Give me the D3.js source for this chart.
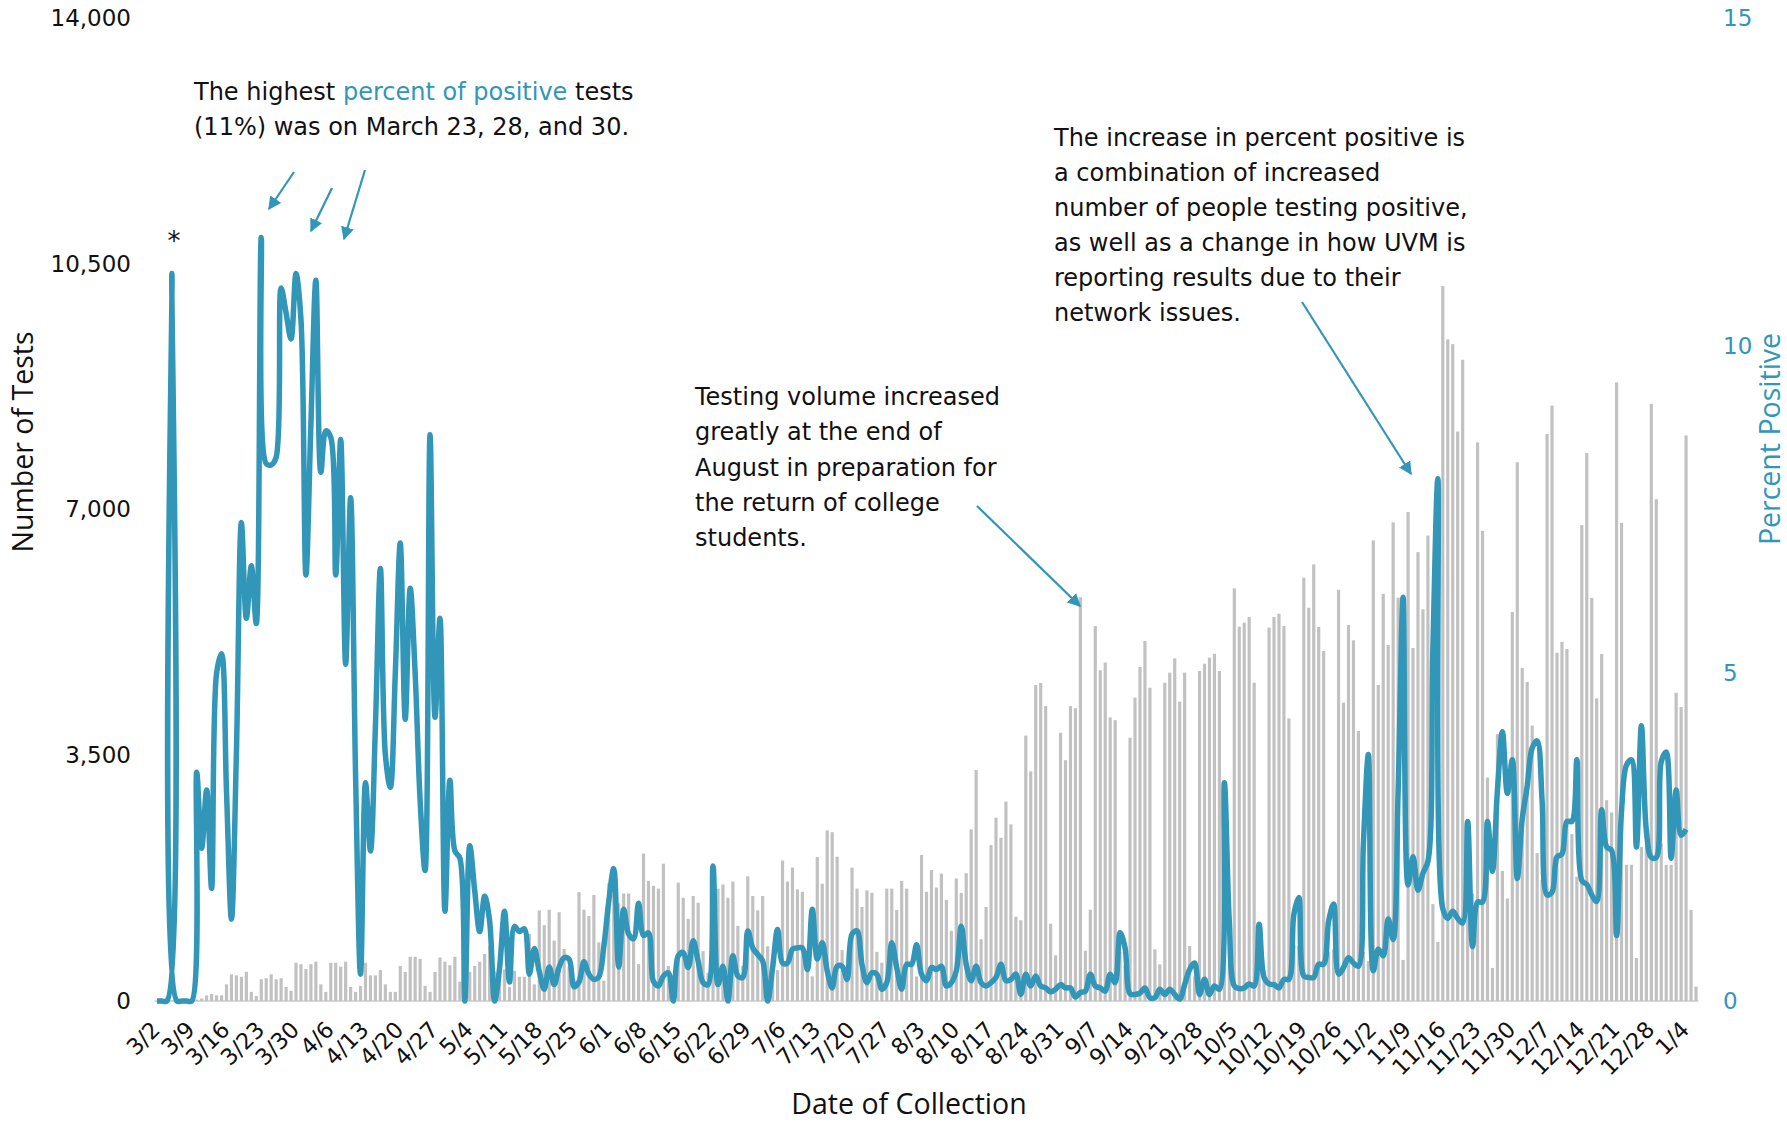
<!DOCTYPE html>
<html>
<head>
<meta charset="utf-8">
<script src="https://cdn.jsdelivr.net/npm/d3@7"></script>
<style>
  body { margin: 0; background: #fff; }
  svg { display: block; font-family: "DejaVu Sans", sans-serif; }
  .axis text { fill: #111; font-family: "DejaVu Sans", sans-serif; }
  .axis line { display: none; }
  .note { font-size: 24px; fill: #111; }
  .title { font-family: "Open Sans", sans-serif; font-size: 28.5px; }
</style>
</head>
<body>
<svg id="chart" width="1787" height="1123"></svg>
<script>
//daily totals, 3/2/2020 .. 1/6/2021
const tests = [
  0,0,0,5,0,0,0,10,20,35,
  80,100,80,80,237,380,365,345,415,130,
  72,310,325,380,310,325,200,145,545,525,
  455,525,560,237,130,545,545,490,560,200,
  130,215,545,365,365,440,237,130,130,500,
  415,630,630,600,215,130,415,620,560,510,
  630,275,200,415,500,560,670,780,420,345,
  450,200,430,345,345,955,237,1290,1080,1300,
  860,1265,740,490,310,1550,1300,1210,1510,835,
  290,1675,1530,1390,1530,1530,885,525,2100,1710,
  1640,1600,1955,500,300,1685,1470,1170,1495,1400,
  710,400,1500,1600,1660,1470,1700,1070,500,1775,
  1495,1290,1495,780,500,440,2000,1700,1900,1590,
  1555,500,350,2050,1670,2430,2405,2055,725,350,
  1900,1600,1340,1575,1540,700,545,1600,1600,1295,
  1710,1600,550,350,2080,1555,1865,1615,1815,1440,
  1000,1745,1540,1820,2445,3290,880,1340,2220,2610,
  2325,2840,2515,1200,1150,3780,3270,4500,4530,4200,
  1100,650,3820,3430,4200,4170,5750,715,1300,5340,
  4710,4820,4040,4000,700,500,3750,4320,4757,5127,
  4462,736,522,4533,4676,4880,4263,4676,783,350,
  4700,4804,4890,4946,4700,926,546,5877,5331,5388,
  5469,4533,700,400,5317,5469,5516,5340,4025,800,
  783,6029,5600,6219,5326,4984,700,736,5858,4249,
  5355,5136,3845,700,570,6560,4500,5800,5070,6817,
  5744,585,6965,5027,6393,5579,6629,1380,841,10182,
  9422,9355,8110,9133,2389,1528,7955,6696,3183,471,
  3802,1851,1460,5540,7672,4745,4543,3924,2106,1730,
  8076,8480,4960,5115,5014,2376,1770,6777,7807,5742,
  4310,4943,2859,2685,8811,6810,1940,1940,613,2195,
  2195,8505,7147,2246,1940,1940,4390,4186,8055,1297,
  204
];

//daily percent positive, 3/2/2020 .. 1/4/2021
const percentPositive = [
  0,0,0,11.1,0,0,0,0,3.49,2.33,
  3.22,1.72,5.0,5.3,3.2,1.25,3.8,7.3,5.84,6.64,
  5.76,11.65,8.2,8.18,8.3,10.88,10.5,10.1,11.1,10.4,
  6.5,8.8,11.0,8.07,8.7,8.6,6.5,8.57,5.14,7.68,
  3.45,0.41,3.33,2.29,4.2,6.6,3.76,3.26,5.0,6.99,
  4.3,6.3,5.0,3.06,1.99,8.64,4.33,5.84,1.37,3.37,
  2.29,2.18,0,2.37,1.68,1.06,1.6,1.22,0,0.5,
  1.37,0.29,1.14,1.06,1.1,0.41,0.8,0.45,0.18,0.52,
  0.25,0.52,0.66,0.64,0.22,0.29,0.6,0.41,0.33,0.37,
  0.83,1.52,2.02,0.52,1.4,1.02,0.95,1.49,1.0,1.04,
  0.3,0.23,0.38,0.43,0,0.69,0.74,0.51,0.92,0.61,
  0.28,0.25,2.06,0.25,0.53,0,0.69,0.38,0.36,1.07,
  0.81,0.71,0.61,0,0.51,1.09,0.58,0.58,0.79,0.81,
  0.81,0.48,1.4,0.64,0.89,0.46,0.2,0.53,0.53,0.33,
  1.02,1.07,0.56,0.28,0.43,0.41,0.18,0.28,0.89,0.51,
  0.18,0.56,0.56,0.86,0.41,0.31,0.51,0.48,0.53,0.23,
  0.28,0.46,1.14,0.56,0.31,0.53,0.28,0.23,0.28,0.36,
  0.56,0.31,0.33,0.41,0.1,0.41,0.23,0.38,0.23,0.2,
  0.14,0.18,0.25,0.2,0.2,0.06,0.13,0.15,0.41,0.23,
  0.2,0.15,0.41,0.28,1.04,0.81,0.11,0.1,0.12,0.2,
  0.05,0.05,0.18,0.1,0.18,0.1,0.03,0.25,0.48,0.58,
  0.1,0.33,0.1,0.23,0.18,3.33,1.2,0.23,0.19,0.2,
  0.26,0.23,1.17,0.36,0.26,0.25,0.2,0.33,0.33,1.32,
  1.58,0.38,0.36,0.36,0.56,0.56,1.22,1.48,0.41,0.51,
  0.66,0.58,0.53,2.39,3.76,0.46,0.79,0.69,1.25,0.94,
  3.2,6.16,1.77,2.2,1.69,1.95,2.13,5.37,7.97,1.41,
  1.26,1.37,1.26,1.19,2.74,0.83,1.51,1.51,2.74,1.98,
  3.21,4.11,3.17,3.68,1.87,2.78,3.28,3.86,3.97,3.06,
  1.62,1.66,2.2,2.24,2.74,2.74,3.68,1.84,1.78,1.62,
  1.52,2.92,2.35,2.3,1.0,2.9,3.6,3.68,2.35,4.2,
  2.6,2.19,2.19,3.65,3.8,2.18,3.22,2.53,2.62
];

const testTicks = [0, 3500, 7000, 10500, 14000];
const percentTicks = [0, 5, 10, 15];
const dateLabels = ["3/2","3/9","3/16","3/23","3/30","4/6","4/13","4/20","4/27","5/4","5/11","5/18","5/25",
  "6/1","6/8","6/15","6/22","6/29","7/6","7/13","7/20","7/27","8/3","8/10","8/17","8/24","8/31",
  "9/7","9/14","9/21","9/28","10/5","10/12","10/19","10/26","11/2","11/9","11/16","11/23","11/30",
  "12/7","12/14","12/21","12/28","1/4"];

const teal = "#3196b7";
const svg = d3.select("#chart");

const days = d3.timeDay.range(new Date(2020, 2, 2), new Date(2021, 0, 7));

const x = d3.scalePoint().domain(days).range([157, 1696]);
const barW = x.step() * 0.64;
const yTests = d3.scaleLinear().domain([0, 14000]).range([1001, 18]);
const yPct = d3.scaleLinear().domain([0, 15]).range([1001, 18]);

//left axis
svg.append("g")
  .attr("class", "axis")
  .attr("transform", "translate(140,0)")
  .call(d3.axisLeft(yTests).tickValues(testTicks).tickSize(0).tickPadding(9).tickFormat(d3.format(",")))
  .call(g => g.select(".domain").remove())
  .selectAll("text").style("font-size", "23px");

//right axis
svg.append("g")
  .attr("class", "axis")
  .attr("transform", "translate(1713,0)")
  .call(d3.axisRight(yPct).tickValues(percentTicks).tickSize(0).tickPadding(10))
  .call(g => g.select(".domain").remove())
  .selectAll("text").style("font-size", "23px").style("fill", teal);

//bottom axis
const weekTicks = days.filter((d, i) => i % 7 === 0 && i <= 308);
const xAxis = svg.append("g")
  .attr("class", "axis")
  .attr("transform", "translate(0,1001)")
  .call(d3.axisBottom(x).tickValues(weekTicks).tickSize(0).tickFormat((d, i) => dateLabels[i]));
xAxis.select(".domain").attr("stroke", "#d9d9d9").attr("stroke-width", 2)
  .attr("d", "M154.5,0H1698.5");
xAxis.selectAll("text")
  .style("font-size", "22.5px")
  .attr("text-anchor", "end")
  .attr("dy", null)
  .attr("y", 0)
  .attr("transform", "translate(4,30) rotate(-45)");

//bars
svg.append("g")
  .selectAll("rect")
  .data(tests)
  .join("rect")
  .attr("x", (d, i) => x(days[i]) - barW / 2)
  .attr("width", barW)
  .attr("y", d => yTests(d))
  .attr("height", d => yTests(0) - yTests(d))
  .attr("fill", "#c1c1c1");

//percent positive line
const line = d3.line()
  .x((d, i) => x(days[i]))
  .y(d => yPct(d))
  .curve(d3.curveCatmullRom.alpha(0.5));

svg.append("path")
  .datum(percentPositive)
  .attr("d", line)
  .attr("fill", "none")
  .attr("stroke", teal)
  .attr("stroke-width", 5.5)
  .attr("stroke-linejoin", "round");

//axis titles
svg.append("text")
  .attr("class", "title")
  .attr("transform", "translate(33,442) rotate(-90)")
  .attr("text-anchor", "middle")
  .attr("fill", "#111")
  .text("Number of Tests");

svg.append("text")
  .attr("class", "title")
  .attr("transform", "translate(1780,439) rotate(-90)")
  .attr("text-anchor", "middle")
  .attr("fill", teal)
  .text("Percent Positive");

svg.append("text")
  .attr("class", "title")
  .attr("x", 909).attr("y", 1114)
  .attr("text-anchor", "middle")
  .attr("fill", "#111")
  .text("Date of Collection");

//annotations
const defs = svg.append("defs");
defs.append("marker")
  .attr("id", "head")
  .attr("viewBox", "0 0 10 10")
  .attr("refX", 9).attr("refY", 5)
  .attr("markerWidth", 6).attr("markerHeight", 6)
  .attr("markerUnits", "strokeWidth")
  .attr("orient", "auto")
  .append("path").attr("d", "M0,0L10,5L0,10Z").attr("fill", teal);

const arrows = [
  [294, 172, 269, 209],
  [332, 188, 311, 231],
  [365, 170, 344, 239],
  [977, 506, 1080, 606],
  [1302, 302, 1411, 474]
];
svg.append("g").selectAll("line")
  .data(arrows)
  .join("line")
  .attr("x1", d => d[0]).attr("y1", d => d[1])
  .attr("x2", d => d[2]).attr("y2", d => d[3])
  .attr("stroke", teal).attr("stroke-width", 2.2)
  .attr("marker-end", "url(#head)");

const n1 = svg.append("text").attr("class", "note").attr("x", 194).attr("y", 100);
n1.append("tspan").text("The highest ");
n1.append("tspan").attr("fill", teal).text("percent of positive");
n1.append("tspan").text(" tests");
svg.append("text").attr("class", "note").attr("x", 194).attr("y", 135)
  .text("(11%) was on March 23, 28, and 30.");

const note2 = ["Testing volume increased", "greatly at the end of", "August in preparation for",
  "the return of college", "students."];
svg.append("g").selectAll("text")
  .data(note2)
  .join("text")
  .attr("class", "note")
  .attr("x", 695)
  .attr("y", (d, i) => 405 + i * 35.3)
  .text(d => d);

const note3 = ["The increase in percent positive is", "a combination of increased",
  "number of people testing positive,", "as well as a change in how UVM is",
  "reporting results due to their", "network issues."];
svg.append("g").selectAll("text")
  .data(note3)
  .join("text")
  .attr("class", "note")
  .attr("x", 1054)
  .attr("y", (d, i) => 146 + i * 35)
  .text(d => d);

svg.append("text")
  .attr("x", 174).attr("y", 250)
  .attr("text-anchor", "middle")
  .style("font-size", "26px").attr("fill", "#111")
  .text("*");
</script>
</body>
</html>
